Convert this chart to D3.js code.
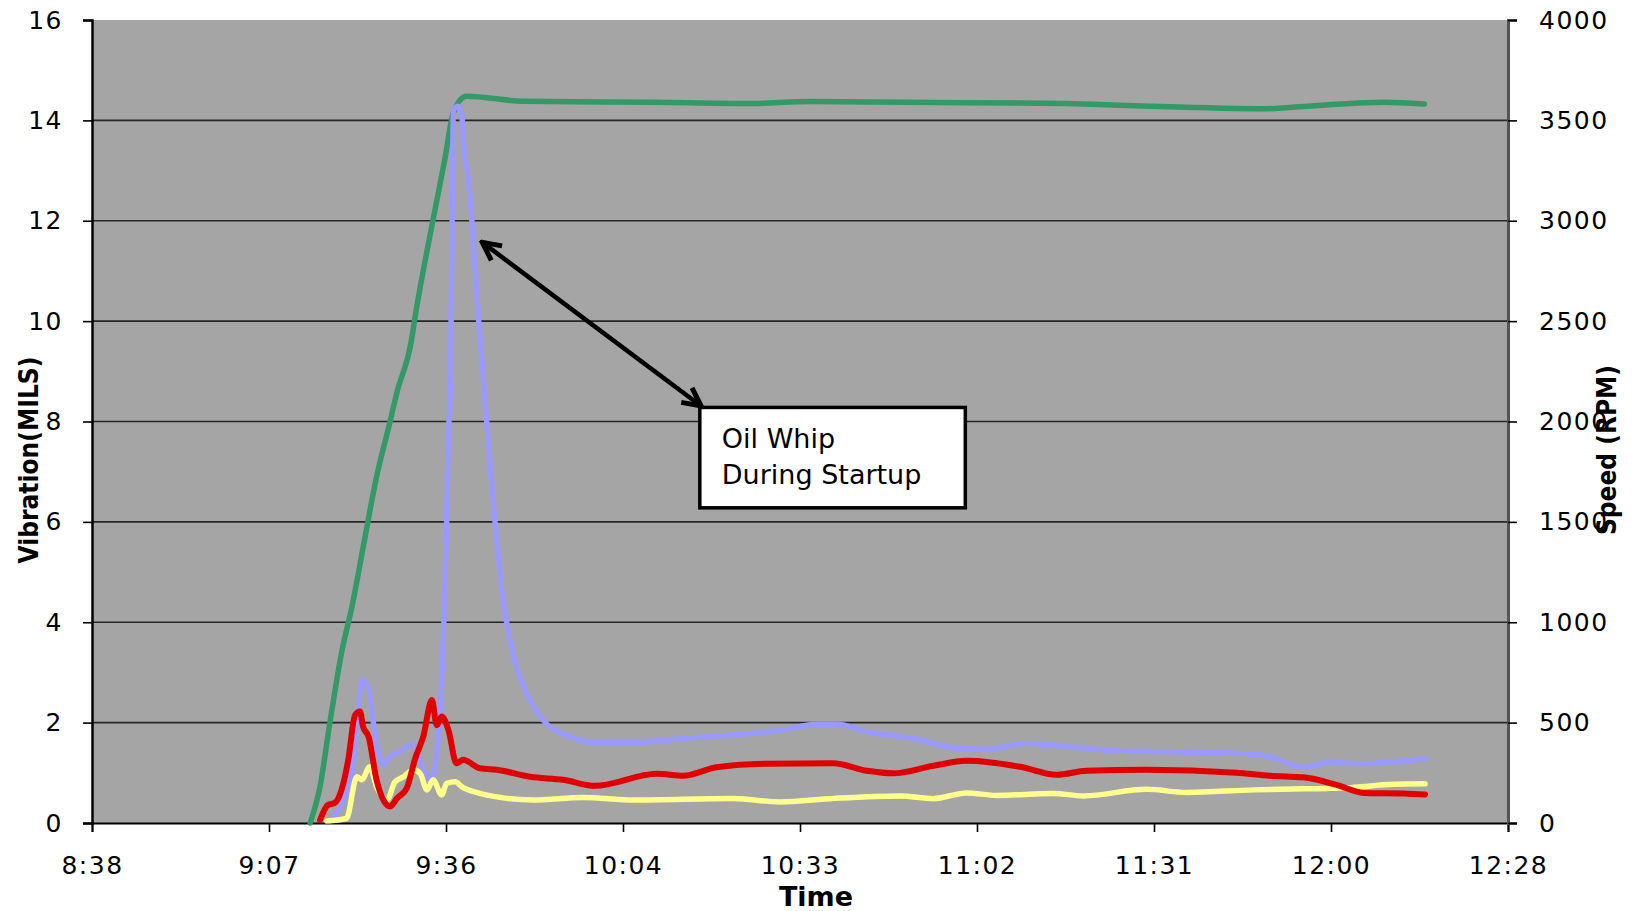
<!DOCTYPE html>
<html>
<head>
<meta charset="utf-8">
<script src="https://cdnjs.cloudflare.com/ajax/libs/d3/7.8.5/d3.min.js"></script>
<style>
  body { margin: 0; background: #fff; }
  text { font-family: "DejaVu Sans", Verdana, sans-serif; fill: #000; }
</style>
</head>
<body>
<div id="chart"></div>
<script>
// Times are minutes after midnight
const xTickMinutes = [518.4, 547.2, 576, 604.8, 633.6, 662.4, 691.2, 720, 748.8];
const xTickLabels = ["8:38", "9:07", "9:36", "10:04", "10:33", "11:02", "11:31", "12:00", "12:28"];
const vibTicks = [0, 2, 4, 6, 8, 10, 12, 14, 16];
const speedTicks = [0, 500, 1000, 1500, 2000, 2500, 3000, 3500, 4000];

// Speed (RPM), green, right axis
const speedTime = [553.9, 555.5, 557.1, 559.0, 560.7, 562.7, 564.6, 566.9, 568.0, 570.4, 570.9, 572.6, 573.9, 575.8, 577.2, 579.3, 588.7, 609.4, 625.0, 635.4, 650.8, 676.9, 687.2, 709.5, 713.2, 728.7, 735.2];
const speedRpm = [0, 181, 499, 847, 1078, 1403, 1710, 2000, 2143, 2408, 2508, 2800, 3006, 3305, 3538, 3620, 3595, 3590, 3584, 3594, 3590, 3584, 3574, 3558, 3564, 3590, 3581];

// Vibration probe 1 (blue) - oil whip spike
const blueTime = [557.1, 560.7, 561.5, 562.3, 563.4, 564.2, 565.3, 565.8, 566.9, 568.5, 570.4, 571.2, 571.8, 572.9, 573.7, 574.2, 575.0, 575.6, 576.1, 576.4, 576.7, 577.0, 577.2, 578.0, 578.6, 578.8, 579.6, 580.2, 581.3, 582.3, 583.2, 584.0, 585.3, 587.0, 589.1, 591.8, 595.6, 601.1, 606.5, 611.9, 622.8, 630.9, 636.3, 639.6, 644.5, 652.6, 658.0, 662.9, 665.6, 670.5, 677.5, 685.7, 693.8, 707.4, 710.1, 715.5, 719.8, 724.7, 735.3];
const blueMils = [0.05, 0.99, 1.92, 2.85, 2.69, 1.99, 1.26, 1.16, 1.32, 1.42, 1.56, 1.45, 1.22, 0.92, 0.86, 1.12, 2.12, 3.78, 5.98, 7.77, 8.57, 12.02, 14.2, 14.28, 14.08, 13.55, 12.89, 12.02, 10.03, 8.5, 7.1, 5.98, 4.45, 3.32, 2.59, 2.05, 1.75, 1.60, 1.60, 1.655, 1.755, 1.855, 1.97, 1.97, 1.82, 1.67, 1.51, 1.47, 1.49, 1.59, 1.52, 1.435, 1.42, 1.37, 1.32, 1.11, 1.21, 1.18, 1.28];

// Vibration probe 2 (red)
const redTime = [555.5, 556.8, 557.9, 559.0, 560.1, 561.2, 562.0, 562.5, 563.4, 564.7, 565.8, 566.9, 568.0, 569.6, 571.0, 572.3, 573.7, 574.5, 575.3, 576.4, 577.7, 578.8, 581.5, 584.3, 589.7, 595.1, 600.2, 610.3, 614.6, 620.0, 628.2, 639.0, 644.5, 648.8, 655.3, 660.7, 669.4, 675.4, 680.2, 690.0, 704.6, 710.1, 715.5, 720.9, 725.3, 731.8, 735.3];
const redMils = [0.06, 0.36, 0.40, 0.66, 1.26, 2.15, 2.22, 1.92, 1.72, 0.86, 0.46, 0.33, 0.49, 0.69, 1.29, 1.72, 2.45, 1.95, 2.12, 1.85, 1.19, 1.26, 1.09, 1.06, 0.92, 0.86, 0.74, 0.98, 0.94, 1.11, 1.18, 1.19, 1.04, 0.99, 1.14, 1.24, 1.12, 0.96, 1.04, 1.06, 1.00, 0.94, 0.91, 0.76, 0.60, 0.59, 0.57];

// Vibration probe 3 (yellow)
const yellowTime = [556.6, 559.8, 561.5, 562.3, 563.6, 564.7, 566.4, 567.7, 569.1, 570.7, 571.8, 572.9, 573.9, 575.3, 576.1, 577.5, 578.6, 581.5, 584.8, 590.2, 598.3, 606.5, 622.8, 630.3, 639.0, 649.9, 655.3, 660.7, 665.6, 674.8, 679.7, 690.0, 696.5, 707.4, 715.5, 722.5, 730.1, 735.3];
const yellowMils = [0.04, 0.09, 0.92, 0.86, 1.12, 0.72, 0.46, 0.82, 0.92, 1.06, 0.99, 0.66, 0.86, 0.56, 0.79, 0.82, 0.72, 0.59, 0.51, 0.46, 0.51, 0.46, 0.49, 0.42, 0.49, 0.54, 0.485, 0.60, 0.55, 0.59, 0.54, 0.67, 0.61, 0.66, 0.68, 0.70, 0.77, 0.78];

const noteLines = ["Oil Whip", "During Startup"];

const W = 1633, H = 911;
const margin = {top: 20, right: 125, bottom: 88, left: 92};
const width = W - margin.left - margin.right;
const height = H - margin.top - margin.bottom;

const svg = d3.select("#chart")
    .append("svg")
    .attr("width", W)
    .attr("height", H);

const g = svg.append("g")
    .attr("transform", `translate(${margin.left},${margin.top})`);

const x = d3.scaleLinear().domain([518.4, 748.8]).range([0, width]);
const yVib = d3.scaleLinear().domain([0, 16]).range([height, 0]);
const ySpeed = d3.scaleLinear().domain([0, 4000]).range([height, 0]);

// grey plot area
g.append("rect")
    .attr("width", width)
    .attr("height", height)
    .attr("fill", "#a5a5a5");

// gridlines
g.append("g")
    .selectAll("line")
    .data(vibTicks.filter(d => d > 0 && d < 16))
    .enter().append("line")
    .attr("x1", 0).attr("x2", width)
    .attr("y1", d => yVib(d)).attr("y2", d => yVib(d))
    .attr("stroke", "#262626")
    .attr("stroke-width", 1.6);

// axes
const tickFont = sel => sel.selectAll("text")
    .style("font-size", "25px")
    .style("letter-spacing", "1.5px")
    .style("font-family", "'DejaVu Sans', Verdana, sans-serif");

const xAxis = g.append("g")
    .attr("transform", `translate(0,${height})`)
    .call(d3.axisBottom(x).tickValues(xTickMinutes)
        .tickFormat((d, i) => xTickLabels[i]).tickSize(9).tickPadding(24));
xAxis.call(tickFont);
xAxis.select(".domain").attr("stroke-width", 2);
xAxis.selectAll(".tick line").attr("stroke-width", 1.6);

const yAxisL = g.append("g")
    .call(d3.axisLeft(yVib).tickValues(vibTicks).tickSize(9).tickPadding(20));
yAxisL.call(tickFont);
yAxisL.select(".domain").attr("stroke-width", 2.5);
yAxisL.selectAll(".tick line").attr("stroke-width", 1.6);

const yAxisR = g.append("g")
    .attr("transform", `translate(${width},0)`)
    .call(d3.axisRight(ySpeed).tickValues(speedTicks)
        .tickFormat(d3.format("d")).tickSize(9).tickPadding(22));
yAxisR.call(tickFont);
yAxisR.select(".domain").attr("stroke", "#555").attr("stroke-width", 3);
yAxisR.selectAll(".tick line").attr("stroke-width", 1.6);

// series
const line = (ys) => d3.line()
    .x(d => x(d[0]))
    .y(d => ys(d[1]))
    .curve(d3.curveMonotoneX);

const series = [
    {t: speedTime, v: speedRpm, scale: ySpeed, color: "#339966", w: 5.5},
    {t: blueTime, v: blueMils, scale: yVib, color: "#9999ff", w: 5.5},
    {t: yellowTime, v: yellowMils, scale: yVib, color: "#ffff8c", w: 5.5},
    {t: redTime, v: redMils, scale: yVib, color: "#e00000", w: 6}
];

series.forEach(s => {
    g.append("path")
        .datum(d3.zip(s.t, s.v))
        .attr("fill", "none")
        .attr("stroke", s.color)
        .attr("stroke-width", s.w)
        .attr("stroke-linejoin", "round")
        .attr("stroke-linecap", "round")
        .attr("d", line(s.scale));
});

// annotation arrow and box
svg.append("defs").append("marker")
    .attr("id", "head")
    .attr("viewBox", "0 0 24 24")
    .attr("refX", 21).attr("refY", 12)
    .attr("markerWidth", 24).attr("markerHeight", 24)
    .attr("markerUnits", "userSpaceOnUse")
    .attr("orient", "auto-start-reverse")
    .append("path")
    .attr("d", "M3,3 L21,12 L3,21")
    .attr("fill", "none")
    .attr("stroke", "#000")
    .attr("stroke-width", 5)
    .attr("stroke-linejoin", "miter");

g.append("line")
    .attr("x1", x(581.9)).attr("y1", yVib(11.57))
    .attr("x2", x(617.5)).attr("y2", yVib(8.31))
    .attr("stroke", "#000")
    .attr("stroke-width", 4.5)
    .attr("marker-start", "url(#head)")
    .attr("marker-end", "url(#head)");

g.append("rect")
    .attr("x", x(617.3)).attr("y", yVib(8.28))
    .attr("width", x(660.5) - x(617.3))
    .attr("height", yVib(6.28) - yVib(8.28))
    .attr("fill", "#fff")
    .attr("stroke", "#000")
    .attr("stroke-width", 3.5);

g.append("g")
    .selectAll("text")
    .data(noteLines)
    .enter().append("text")
    .attr("x", x(617.3) + 22)
    .attr("y", (d, i) => yVib(8.28) + 41 + i * 36)
    .style("font-size", "27px")
    .text(d => d);

// axis titles
svg.append("text")
    .attr("transform", "rotate(-90)")
    .attr("x", -460)
    .attr("y", 38)
    .style("text-anchor", "middle")
    .style("font-family", "'DejaVu Sans Condensed', 'Liberation Sans Narrow', sans-serif")
    .style("font-weight", "bold")
    .style("font-size", "26px")
    .text("Vibration(MILS)");

svg.append("text")
    .attr("transform", "rotate(-90)")
    .attr("x", -450)
    .attr("y", 1616)
    .style("text-anchor", "middle")
    .style("font-family", "'DejaVu Sans Condensed', 'Liberation Sans Narrow', sans-serif")
    .style("font-weight", "bold")
    .style("font-size", "26px")
    .text("Speed (RPM)");

svg.append("text")
    .attr("x", 816)
    .attr("y", 906)
    .style("text-anchor", "middle")
    .style("font-weight", "bold")
    .style("font-size", "27px")
    .text("Time");
</script>
</body>
</html>
